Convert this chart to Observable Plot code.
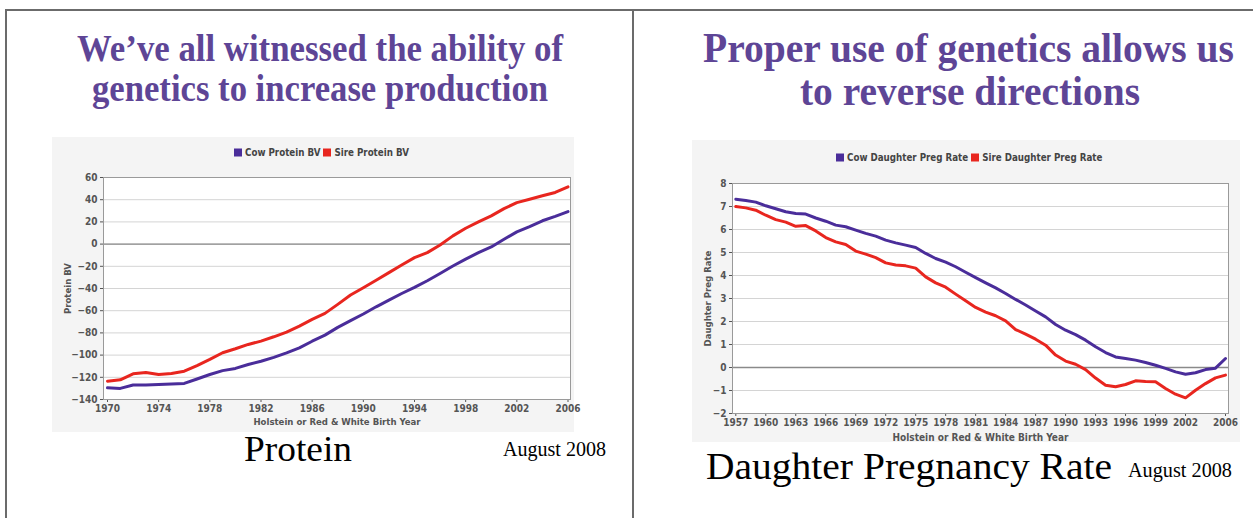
<!DOCTYPE html>
<html><head><meta charset="utf-8">
<script src="https://cdn.jsdelivr.net/npm/d3@7"></script>
<script src="https://cdn.jsdelivr.net/npm/@observablehq/plot@0.6"></script>
<style>
body{margin:0;background:#fff}
#page{position:relative;width:1253px;height:518px;overflow:hidden;background:#fff}
.abs{position:absolute}
.fit{position:absolute;white-space:nowrap;line-height:0.8;transform-origin:0 0}
.title{font-family:"Liberation Serif","Times New Roman",serif;font-weight:bold;color:#5e4596}
.cap{font-family:"Liberation Serif","Times New Roman",serif;color:#000}
.legend{position:absolute;font-family:"DejaVu Sans Condensed","DejaVu Sans",sans-serif;font-weight:bold;font-size:9.7px;color:#444;white-space:nowrap;display:flex;align-items:center;transform:translateY(-50%)}
.sw{display:inline-block;width:8px;height:8px;margin-right:3px}
.item{display:flex;align-items:center;margin-right:3px}
.chart{position:absolute}
</style></head>
<body>
<div id="page">
  <div class="abs" style="left:5px;top:9px;width:1248px;height:2px;background:#6b6b6b"></div>
  <div class="abs" style="left:5px;top:9px;width:2px;height:509px;background:#6b6b6b"></div>
  <div class="abs" style="left:632px;top:9px;width:2px;height:509px;background:#6b6b6b"></div>
  <div id="c1" class="chart" style="left:52px;top:137px"></div>
  <div id="c2" class="chart" style="left:692px;top:140px"></div>
</div>
<script>
// ---- Data ----
const proteinYears = [1970,1971,1972,1973,1974,1975,1976,1977,1978,1979,1980,1981,1982,1983,1984,1985,1986,1987,1988,1989,1990,1991,1992,1993,1994,1995,1996,1997,1998,1999,2000,2001,2002,2003,2004,2005,2006];
const cowProtein = [-129.5,-130,-127,-127,-126.5,-126,-125.5,-121.5,-117.5,-114,-112,-108.5,-105.5,-102,-98,-93.5,-87.5,-82,-75,-69,-63,-56.5,-50.5,-44.5,-39,-33,-26.5,-19.7,-13.5,-7.7,-2.6,4.4,11,15.8,21,25,29.3];
const sireProtein = [-123.5,-122.3,-116.9,-115.7,-117.5,-116.6,-114.5,-109.4,-103.9,-97.9,-94.3,-90.4,-87.4,-83.5,-79.3,-73.9,-67.8,-62.4,-54.3,-45.9,-39.3,-32.6,-25.7,-18.8,-12.2,-7.7,-0.8,7.4,14.3,20,25.4,32,37.4,40.4,43.5,46.5,51.6];
const proteinSeries = ["Cow Protein BV","Sire Protein BV"];
const proteinXTicks = [1970,1974,1978,1982,1986,1990,1994,1998,2002,2006];
const proteinYTicks = [-140,-120,-100,-80,-60,-40,-20,0,20,40,60];

const dprYears = [1957,1958,1959,1960,1961,1962,1963,1964,1965,1966,1967,1968,1969,1970,1971,1972,1973,1974,1975,1976,1977,1978,1979,1980,1981,1982,1983,1984,1985,1986,1987,1988,1989,1990,1991,1992,1993,1994,1995,1996,1997,1998,1999,2000,2001,2002,2003,2004,2005,2006];
const cowDPR = [7.32,7.26,7.19,7.03,6.9,6.77,6.7,6.67,6.5,6.36,6.19,6.12,5.97,5.83,5.71,5.54,5.42,5.32,5.22,4.96,4.74,4.58,4.38,4.14,3.91,3.68,3.46,3.22,2.96,2.72,2.46,2.2,1.87,1.62,1.43,1.19,0.9,0.65,0.46,0.39,0.32,0.22,0.1,-0.04,-0.19,-0.29,-0.23,-0.09,-0.03,0.39];
const sireDPR = [7.0,6.94,6.84,6.62,6.43,6.32,6.14,6.17,5.94,5.65,5.46,5.35,5.06,4.93,4.78,4.55,4.46,4.42,4.32,3.94,3.68,3.49,3.19,2.9,2.61,2.41,2.25,2.03,1.65,1.45,1.23,0.97,0.54,0.28,0.14,-0.09,-0.46,-0.77,-0.84,-0.74,-0.58,-0.61,-0.62,-0.91,-1.16,-1.32,-0.99,-0.7,-0.45,-0.33];
const dprSeries = ["Cow Daughter Preg Rate","Sire Daughter Preg Rate"];
const dprXTicks = [1957,1960,1963,1966,1969,1972,1975,1978,1981,1984,1987,1990,1993,1996,1999,2002,2006];
const dprYTicks = [-2,-1,0,1,2,3,4,5,6,7,8];

const titleLeft = ["We\u2019ve all witnessed the ability of","genetics to increase production"];
const titleRight = ["Proper use of genetics allows us","to reverse directions"];
const captionLeft = "Protein", captionRight = "Daughter Pregnancy Rate", dateText = "August 2008";
const axisXLabel = "Holstein or Red & White Birth Year";

const seriesColors = ["#4a2d9a","#e8261f"];

// ---- Text layout ----
const page = document.getElementById("page");
function fitText(text, cls, size, left, right, baseline){
  const el = document.createElement("div");
  el.className = "fit " + cls;
  el.style.fontSize = size + "px";
  el.appendChild(document.createTextNode(text));
  const probe = document.createElement("span");
  probe.style.cssText = "display:inline-block;width:0;height:0;vertical-align:baseline";
  el.appendChild(probe);
  el.style.left = "0px"; el.style.top = "0px";
  page.appendChild(el);
  const r = el.getBoundingClientRect();
  const b = probe.getBoundingClientRect().top - r.top;
  el.style.left = left + "px";
  el.style.top = (baseline - b) + "px";
  el.style.transform = `scaleX(${(right-left)/r.width})`;
}
fitText(titleLeft[0],"title",37,77,563,61);
fitText(titleLeft[1],"title",37,92,548,101);
fitText(titleRight[0],"title",42,703,1234,62);
fitText(titleRight[1],"title",42,800,1140,105);
fitText(captionLeft,"cap",36,244,352,461);
fitText(dateText,"cap",20,503,606,456);
fitText(captionRight,"cap",38,706,1112,479);
fitText(dateText,"cap",20,1128,1232,477);

function legend(names, left, centerY){
  const d = document.createElement("div");
  d.className = "legend";
  d.style.left = left + "px"; d.style.top = centerY + "px";
  names.forEach((n,i)=>{
    const it = document.createElement("span"); it.className="item";
    const s = document.createElement("span"); s.className="sw"; s.style.background = seriesColors[i];
    it.appendChild(s); it.appendChild(document.createTextNode(n));
    d.appendChild(it);
  });
  page.appendChild(d);
}

// ---- Charts ----
function makeChart(opts){
  const data = [];
  opts.years.forEach((y,i)=>{
    data.push({year:y, value:opts.a[i], series:opts.series[0]});
  });
  opts.years.forEach((y,i)=>{
    data.push({year:y, value:opts.b[i], series:opts.series[1]});
  });
  return Plot.plot({
    width: opts.width, height: opts.height,
    marginLeft: opts.ml, marginRight: opts.mr, marginTop: opts.mt, marginBottom: opts.mb,
    style:{background:"#f4f4f4", fontFamily:'"DejaVu Sans Condensed","DejaVu Sans",sans-serif', fontSize:"10px", fontWeight:"bold", color:"#555", overflow:"visible"},
    x:{domain:opts.xdomain, insetLeft:opts.il, insetRight:opts.ir},
    y:{domain:opts.ydomain},
    color:{domain:opts.series, range:seriesColors},
    marks:[
      Plot.frame({fill:"white"}),
      Plot.gridY(opts.yticks,{stroke:"#d4d4d4", strokeOpacity:1}),
      Plot.ruleY([0],{stroke:"#8a8a8a", strokeWidth:1.4}),
      Plot.line(data,{x:"year", y:"value", z:"series", stroke:"series", strokeWidth:3}),
      Plot.axisY({ticks:opts.yticks, tickSize:3, tickPadding:3, label:null}),
      Plot.axisY({ticks:[], tickSize:0, label:opts.ylabel, labelAnchor:"center", labelArrow:"none", labelOffset:opts.ylo, fontSize:9.5}),
      Plot.axisX({ticks:opts.xticks, tickSize:3, tickPadding:2, tickFormat:"d", label:null}),
      Plot.axisX({ticks:[], tickSize:0, label:axisXLabel, labelAnchor:"center", labelArrow:"none", labelOffset:opts.xlo, fontSize:opts.xfs}),
      Plot.frame({stroke:"#9a9a9a"})
    ]
  });
}

document.getElementById("c1").appendChild(makeChart({
  years:proteinYears, a:cowProtein, b:sireProtein, series:proteinSeries,
  width:522, height:295, ml:51, mr:4, mt:40, mb:33, il:4, ir:2.5,
  xdomain:[1970,2006], ydomain:[-140,60], xticks:proteinXTicks, yticks:proteinYTicks,
  ylabel:"Protein BV", ylo:39, xlo:25, xfs:9.5
}));
document.getElementById("c2").appendChild(makeChart({
  years:dprYears, a:cowDPR, b:sireDPR, series:dprSeries,
  width:548, height:302, ml:40, mr:12, mt:43, mb:29, il:3.3, ir:3,
  xdomain:[1957,2006], ydomain:[-2,8], xticks:dprXTicks, yticks:dprYTicks,
  ylabel:"Daughter Preg Rate", ylo:28, xlo:27, xfs:10
}));
legend(proteinSeries, 234, 152);
legend(dprSeries, 836, 157);
</script>
</body></html>
